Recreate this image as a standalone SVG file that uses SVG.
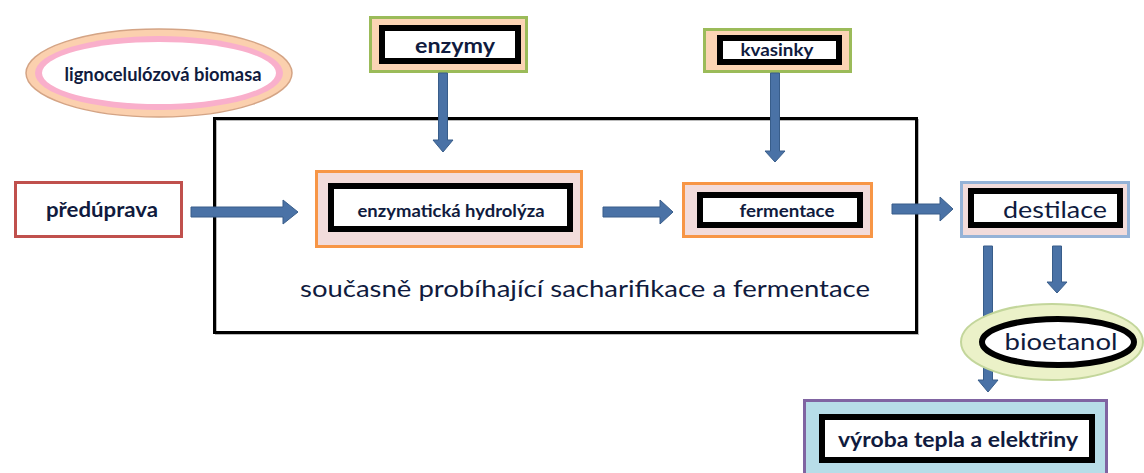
<svg xmlns="http://www.w3.org/2000/svg" width="1144" height="473" viewBox="0 0 1144 473">
<style>
text{font-family:Lato,"Open Sans","Liberation Sans",sans-serif;fill:#101b3e;text-anchor:middle}
.b{font-weight:bold}
.blk{fill:#fff;stroke:#000;stroke-width:6}
.org{fill:#f2dcdb;stroke:#f79646;stroke-width:3}
.grn{fill:#fbd4b4;stroke:#9bbb59;stroke-width:3}
.arr{fill:#4a72a6;stroke:#385d8a;stroke-width:1}
</style>
<rect width="1144" height="473" fill="#fff"/>
<g id="frame">
<rect x="216" y="120" width="702" height="214" fill="none" stroke="#bbb" stroke-width="2"/>
<rect x="214.5" y="118.5" width="702" height="214" fill="none" stroke="#000" stroke-width="3"/>
<text x="585" y="297" font-size="24" textLength="570" lengthAdjust="spacingAndGlyphs">současně probíhající sacharifikace a fermentace</text>
</g>
<g id="biomasa">
<ellipse cx="159" cy="73" rx="133" ry="44" fill="#fbd0ae" stroke="#d4a485" stroke-width="1.5"/>
<ellipse cx="159" cy="73" rx="124" ry="37" fill="#f9afcb"/>
<ellipse cx="159" cy="73" rx="117" ry="31" fill="#fff"/>
<text class="b" x="163" y="81" font-size="18.5" textLength="197" lengthAdjust="spacingAndGlyphs">lignocelulózová biomasa</text>
</g>
<g id="predupava">
<rect x="15.5" y="182.5" width="166" height="54" fill="#fff" stroke="#c0504d" stroke-width="3"/>
<text class="b" x="102" y="217" font-size="20.5" textLength="112" lengthAdjust="spacingAndGlyphs">předúprava</text>
</g>
<g id="enzymy">
<rect class="grn" x="370.5" y="17.5" width="156" height="54"/>
<rect class="blk" x="382" y="28" width="136" height="33"/>
<text class="b" x="455" y="53" font-size="21" textLength="80" lengthAdjust="spacingAndGlyphs">enzymy</text>
</g>
<g id="kvasinky">
<rect class="grn" x="704.5" y="29.5" width="146" height="42"/>
<rect class="blk" x="720" y="38" width="119" height="24" stroke-width="5.5"/>
<text class="b" x="777" y="56" font-size="16.5" textLength="73" lengthAdjust="spacingAndGlyphs">kvasinky</text>
</g>
<g id="hydrolyza">
<rect class="org" x="316.5" y="171.5" width="265" height="75"/>
<rect class="blk" x="331" y="186" width="239" height="43"/>
<text class="b" x="451" y="217" font-size="16.5" textLength="187" lengthAdjust="spacingAndGlyphs">enzymatická hydrolýza</text>
</g>
<g id="fermentace">
<rect class="org" x="683.5" y="183.5" width="188" height="53"/>
<rect class="blk" x="700" y="195" width="160" height="30"/>
<text class="b" x="787" y="217" font-size="16.5" textLength="95" lengthAdjust="spacingAndGlyphs">fermentace</text>
</g>
<g id="destilace">
<rect x="961.5" y="182.5" width="167" height="54" fill="#f2dcdb" stroke="#95b3d7" stroke-width="3"/>
<rect class="blk" x="971" y="191" width="149" height="34"/>
<text x="1055" y="218" font-size="24" textLength="104" lengthAdjust="spacingAndGlyphs">destilace</text>
</g>
<g id="connectors">
<polygon class="arr" points="191,207 283,207 283,200 298,212 283,224 283,217 191,217"/>
<polygon class="arr" points="603,207 660,207 660,200 673,212 660,224 660,217 603,217"/>
<polygon class="arr" points="892,204 940,204 940,197 953,209 940,221 940,214 892,214"/>
<polygon class="arr" points="438.5,73 447.5,73 447.5,140 453,140 443,152 433,140 438.5,140"/>
<polygon class="arr" points="770.5,73 779.5,73 779.5,151 785,151 775,162 765,151 770.5,151"/>
<polygon class="arr" points="983.5,246 992.5,246 992.5,380 998,380 988,392 978,380 983.5,380"/>
<polygon class="arr" points="1052.5,246 1061.5,246 1061.5,282 1067,282 1057,293 1047,282 1052.5,282"/>
</g>
<g id="bioetanol">
<ellipse cx="1052" cy="342" rx="91" ry="38" fill="#ebf1c8" stroke="#c3d69b" stroke-width="2"/>
<ellipse cx="1058" cy="342" rx="76" ry="23" fill="#fff" stroke="#000" stroke-width="6"/>
<text x="1061" y="350" font-size="24" textLength="113" lengthAdjust="spacingAndGlyphs">bioetanol</text>
</g>
<g id="vyroba">
<rect x="804.5" y="400.5" width="302" height="80" fill="#b7dde8" stroke="#8064a2" stroke-width="3"/>
<rect class="blk" x="822" y="417" width="270" height="43"/>
<text class="b" x="958" y="447" font-size="20" textLength="240" lengthAdjust="spacingAndGlyphs">výroba tepla a elektřiny</text>
</g>
</svg>
